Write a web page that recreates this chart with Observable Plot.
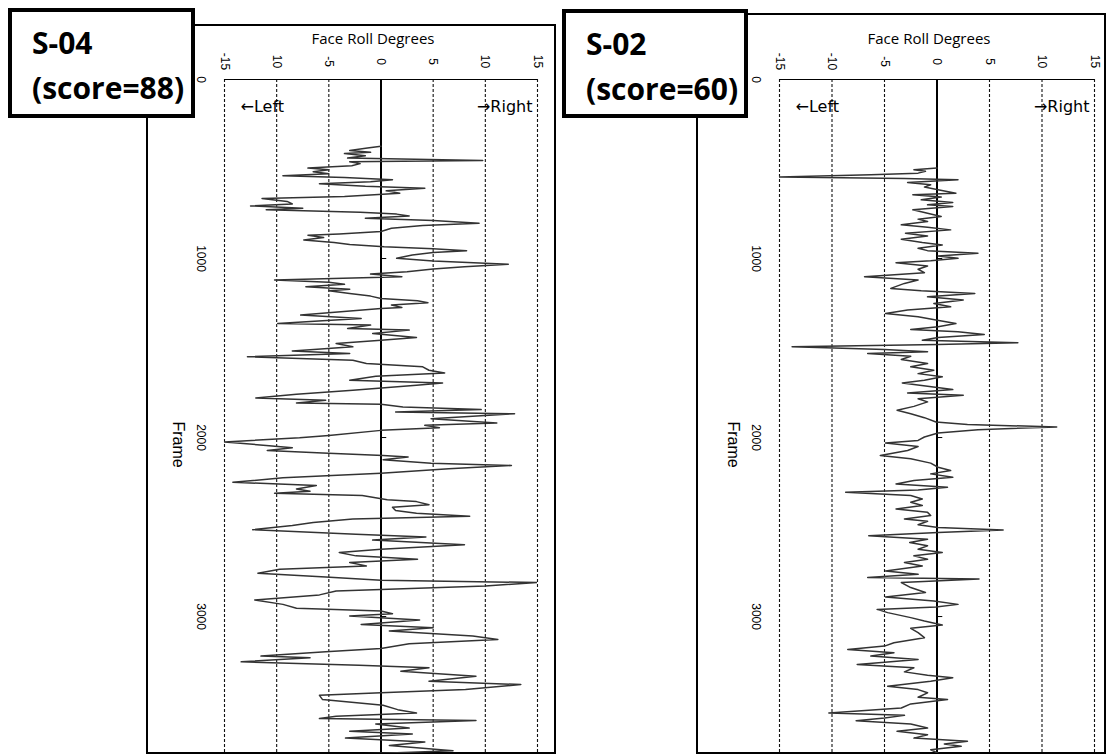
<!DOCTYPE html>
<html>
<head>
<meta charset="utf-8">
<script src="https://cdn.jsdelivr.net/npm/d3@7"></script>
<script src="https://cdn.jsdelivr.net/npm/@observablehq/plot@0.6"></script>
<style>
  html, body { margin: 0; padding: 0; background: #fff; }
  #root { position: relative; width: 1106px; height: 756px; overflow: hidden; background: #fff; }
  .frameBox { position: absolute; border: 2px solid #000; box-sizing: border-box; }
  .plotHolder { position: absolute; }
  .plotHolder svg { display: block; overflow: hidden; }
  .labelBox { position: absolute; background: #fff; border: 4px solid #000; box-sizing: border-box;
              font-family: "Open Sans", sans-serif; font-weight: 700; font-size: 30px; line-height: 45px;
              padding-left: 20px; padding-top: 8px; color: #000; white-space: nowrap; }
</style>
</head>
<body>
<div id="root"></div>
<script>
// ---------------- data ----------------
const xTickVals = [-15, -10, -5, 0, 5, 10, 15];
const xTickLabelsS04 = ["-15", "10", "-5", "0", "5", "10", "15"];
const xTickLabelsS02 = ["-15", "-10", "-5", "0", "5", "10", "15"];
const dashedGrid = [-15, -10, -5, 5, 10, 15];
const frameTicks = [0, 1000, 2000, 3000];
const frameTickLabels = ["0", "1000", "2000", "3000"];

// S-04 (score=88): frame number, face roll degrees
const s04Frame = [373,383,396,407,414,426,439,452,459,470,482,495,504,515,526,538,547,560,571,582,597,607,622,635,653,665,681,695,706,719,728,741,752,762,775,788,803,816,831,849,863,870,883,896,911,922,934,945,956,967,980,999,1014,1032,1046,1059,1074,1087,1102,1120,1133,1144,1158,1171,1180,1195,1210,1223,1236,1247,1260,1273,
  1279,1316,1335,1348,1363,1372,1391,1400,1419,1441,1456,1475,1493,1516,1531,1549,1568,1587,1605,1624,1639,1658,1680,1695,1708,1736,1758,1779,1792,1807,1814,1829,1844,1857,1867,1895,1919,1932,1945,1960,1988,2001,2025,2044,2057,2072,2087,2100,2109,2124,2143,2156,2175,2199,2225,2250,2268,2287,2300,2311,2324,2347,2358,2375,2390,2408,2423,2440,2455,2474,2492,2515,
  2540,2555,2573,2599,2624,2642,2661,2680,2698,2717,2736,2758,2779,2797,2810,2829,2857,2879,2907,2932,2954,2969,2984,2997,3019,3044,3062,3081,3109,3128,3152,3178,3197,3221,3230,3253,3272,3286,3305,3333,3361,3380,3408,3426,3440,3464,3496,3520,3539,3557,3570,3580,3600,3623,3641,3656,3679,3701,3720,3749,3763,3781];
const s04Deg = [0,-1.3,-3.0,-1.0,-3.5,-1.5,-3.2,9.75,-3.0,-2.0,-2.8,-7.0,-5.0,-6.5,-5.0,-9.4,-3.5,1.1,-1.0,-5.9,-1.5,4.2,0.5,1.8,-3.5,-11.4,-9.0,-8.5,-12.5,-7.5,-11.0,-2.0,1.5,2.7,-1.5,5.0,9.4,4.0,1.0,0,-4.0,-7.0,-5.5,-7.4,-4.5,-3.0,0.3,5.0,8.2,5.0,3.0,1.5,5.0,12.2,8.0,5.0,2.5,-1.0,2.0,-10.2,-5.0,-3.5,-7.2,-3.0,-5.0,-3.0,-1.0,0,3.5,4.5,1.0,2.0,
  0,-7.7,-1.9,-5.6,-9.9,-1.0,-3.2,2.7,-0.8,3.4,0,-4.3,-2.7,-8.5,-3.0,-12.8,-2.7,-1.4,4.0,4.6,6.1,-0.5,-3.0,5.9,3.4,-2.7,-8.1,-12.0,-5.3,-8.1,0,2.1,9.6,1.4,12.8,4.8,11.1,4.2,5.6,0,-5.0,-7.8,-15.0,-11.0,-8.5,-10.9,-5.6,0.2,2.6,0.2,4.8,12.5,6.5,0,-9.4,-14.2,-6.2,-8.1,-6.8,-10.2,-1.8,0.6,3.4,4.6,1.1,1.4,3.4,8.5,-2.7,-6.5,-8.5,-12.3,
  -2.4,4.3,-0.8,8.0,0,-4.0,-2.4,3.5,-3.0,-1.4,-9.7,-11.8,-5.3,0,15.0,10.0,-4.3,-5.9,-12.1,-9.4,-8.1,0,1.1,-3.0,3.7,-1.9,5.0,0.8,8.8,11.2,2.7,0,-5.3,-11.5,-6.8,-13.4,-2.1,4.6,1.9,9.1,4.6,13.4,8.1,0,-5.9,-5.6,0.2,1.6,3.4,-4.3,-5.9,9.1,-0.5,2.7,-3.0,3.0,-3.4,4.2,0.8,6.9,0.2,-9.4];

// S-02 (score=60): frame number, face roll degrees
const s02Frame = [495,504,513,523,532,545,553,560,575,588,601,616,635,644,657,672,687,700,709,728,747,765,780,793,812,825,840,859,874,892,911,924,943,956,971,986,999,1012,1023,1042,1060,1079,1102,1120,1139,1167,1180,1195,1214,1232,1251,1270,1288,
  1307,1325,1344,1363,1381,1396,1409,1424,1441,1456,1471,1480,1493,1508,1521,1531,1546,1564,1587,1605,1624,1643,1661,1680,1695,1714,1732,1751,1764,1783,1801,1826,1848,1867,1889,1913,1927,1941,1956,1975,1997,2016,2031,2050,2072,2100,2119,2143,2166,2184,2203,2222,2240,2259,2278,2293,2306,2324,2343,2362,2380,2399,2418,2436,2455,2468,2487,2502,2516,
  2530,2549,2568,2586,2605,2624,2642,2661,2680,2698,2717,2745,2764,2782,2790,2810,2838,2866,2891,2913,2932,2947,2960,2978,3006,3025,3047,3066,3090,3118,3146,3165,3184,3202,3221,3240,3268,3286,3309,3328,3342,3361,3389,3408,3426,3451,3464,3488,3511,3539,3552,3567,3582,3600,3623,3641,3660,3679,3697,3712,3725,3744,3763,3781];
const s02Deg = [0,-2.2,-1.1,-1.8,-6.3,-15.0,-3.1,2.0,-2.8,-0.6,-1.2,0.1,1.8,-2.3,0.4,-1.5,1.5,-0.9,1.5,-2.3,-0.9,0.4,-1.8,-0.9,-3.4,-0.9,1.3,-3.0,-0.9,-3.4,-1.4,0.5,-1.8,-0.9,3.9,0.1,2.0,-0.6,-3.9,-0.9,-1.8,-1.2,-6.9,-1.8,-3.1,-4.4,-1.5,3.6,-0.9,2.5,-0.3,1.3,-2.8,
  -4.9,-1.8,-0.1,1.8,0.1,-2.5,2.0,4.5,0.1,-1.4,7.7,0.1,-13.8,-5.0,-0.9,-6.6,-2.5,-3.4,-0.9,-2.5,-0.3,-1.8,0.5,-1.2,-3.3,-0.9,1.5,-2.8,2.5,-1.8,-0.9,-2.2,-3.8,-2.5,-1.2,-0.1,2.9,11.4,3.9,0.1,-1.2,-1.8,-4.9,-1.8,-2.8,-5.4,-2.5,-0.6,0.1,1.3,-0.6,1.5,-2.2,-3.9,1.0,-1.8,-8.7,-2.5,-1.4,-2.5,-1.4,-3.9,-0.9,-0.6,-3.1,-0.9,-1.8,0.1,6.3,
  0.1,-6.5,-0.9,-2.6,-0.9,-1.8,0.5,-2.2,-0.9,-3.1,-1.4,-4.9,-1.8,-6.6,4.0,-3.4,-2.5,-1.1,-4.9,-0.3,2.0,-0.1,-5.7,-4.7,-2.5,-1.2,0.5,-2.5,-1.8,-1.2,-4.1,-5.0,-8.5,-4.1,-6.3,-1.8,-7.6,-2.2,-3.1,-0.9,1.5,-0.6,-4.7,-1.8,-0.9,-1.8,1.0,-2.5,-3.4,-10.3,-3.1,-5.0,-7.7,-2.5,-0.9,-3.8,-0.9,-2.2,2.9,0.7,2.3,-0.6,0.1,-0.9];

const panels = [
  { id: "S-04", score: "(score=88)", frame: s04Frame, deg: s04Deg, tickLabels: xTickLabelsS04,
    box: {left: 146, top: 24, width: 410, height: 730},
    svg: {left: 147, top: 25, width: 408, height: 728, ml: 77, mr: 18, mt: 54},
    label: {left: 8, top: 8, width: 187, height: 110} },
  { id: "S-02", score: "(score=60)", frame: s02Frame, deg: s02Deg, tickLabels: xTickLabelsS02,
    box: {left: 696, top: 13, width: 410, height: 741},
    svg: {left: 697, top: 14, width: 408, height: 739, ml: 82, mr: 11, mt: 65},
    label: {left: 562, top: 9, width: 186, height: 109} }
];

const root = document.getElementById("root");

function px(v) { return v + "px"; }

panels.forEach(p => {
  const fb = document.createElement("div");
  fb.className = "frameBox";
  Object.assign(fb.style, {left: px(p.box.left), top: px(p.box.top), width: px(p.box.width), height: px(p.box.height)});
  root.appendChild(fb);

  const data = p.frame.map((f, i) => ({frame: f, deg: p.deg[i]}));
  const xt = xTickVals.map((v, i) => ({v, label: p.tickLabels[i]}));
  const ft = frameTicks.map((v, i) => ({v, label: frameTickLabels[i]}));

  const svg = Plot.plot({
    width: p.svg.width,
    height: p.svg.height,
    marginLeft: p.svg.ml,
    marginRight: p.svg.mr,
    marginTop: p.svg.mt,
    marginBottom: 0,
    x: {domain: [-15, 15], axis: null},
    y: {domain: [0, 3765], reverse: true, axis: null},
    style: {background: "transparent", fontFamily: "'Liberation Sans', Arial, sans-serif", color: "#000"},
    marks: [
      Plot.ruleX(dashedGrid, {stroke: "#111", strokeWidth: 1.1, strokeDasharray: "3,2"}),
      Plot.ruleX([0], {stroke: "#000", strokeWidth: 2}),
      Plot.ruleY([0], {x1: -15, x2: 15, stroke: "#000", strokeWidth: 1.2}),
      Plot.ruleY(frameTicks.filter(f => f > 0), {x1: 0, x2: 0.55, stroke: "#000", strokeWidth: 1}),
      Plot.line(data, {x: "deg", y: "frame", stroke: "#333", strokeWidth: 1.5, clip: true}),
      Plot.text(xt, {x: "v", y: () => 0, text: "label", rotate: 90, dy: -18, fontSize: 12, fill: "#000", ariaLabel: "xtick"}),
      Plot.text(ft, {x: () => -15, y: "v", text: "label", rotate: 90, dx: -24, fontSize: 12, fill: "#000", ariaLabel: "ytick"}),
      Plot.text(["Frame"], {frameAnchor: "left", text: d => d, rotate: 90, textAnchor: "middle", dx: -46, dy: 28, fontSize: 16, fill: "#000"}),
      Plot.text(["Face Roll Degrees"], {frameAnchor: "top", text: d => d, dx: -8, dy: -36, lineAnchor: "bottom", fontSize: 15, fontFamily: "'Open Sans', sans-serif", fill: "#000"}),
      Plot.text(["\u2190Left"], {frameAnchor: "top-left", text: d => d, textAnchor: "start", dx: 16, dy: 21, fontSize: 16, fontFamily: "'DejaVu Sans', sans-serif", fill: "#000"}),
      Plot.text(["\u2192Right"], {frameAnchor: "top-right", text: d => d, textAnchor: "end", dx: -5, dy: 21, fontSize: 16, fontFamily: "'DejaVu Sans', sans-serif", fill: "#000"})
    ]
  });

  d3.select(svg).selectAll('g[aria-label="xtick"] text, g[aria-label="ytick"] text')
    .attr("transform", function() { return this.getAttribute("transform") + " scale(1,1.4)"; });

  const holder = document.createElement("div");
  holder.className = "plotHolder";
  Object.assign(holder.style, {left: px(p.svg.left), top: px(p.svg.top), width: px(p.svg.width), height: px(p.svg.height)});
  holder.appendChild(svg);
  root.appendChild(holder);

  const lb = document.createElement("div");
  lb.className = "labelBox";
  Object.assign(lb.style, {left: px(p.label.left), top: px(p.label.top), width: px(p.label.width), height: px(p.label.height)});
  lb.innerHTML = p.id + "<br>" + p.score;
  root.appendChild(lb);
});
</script>
</body>
</html>
